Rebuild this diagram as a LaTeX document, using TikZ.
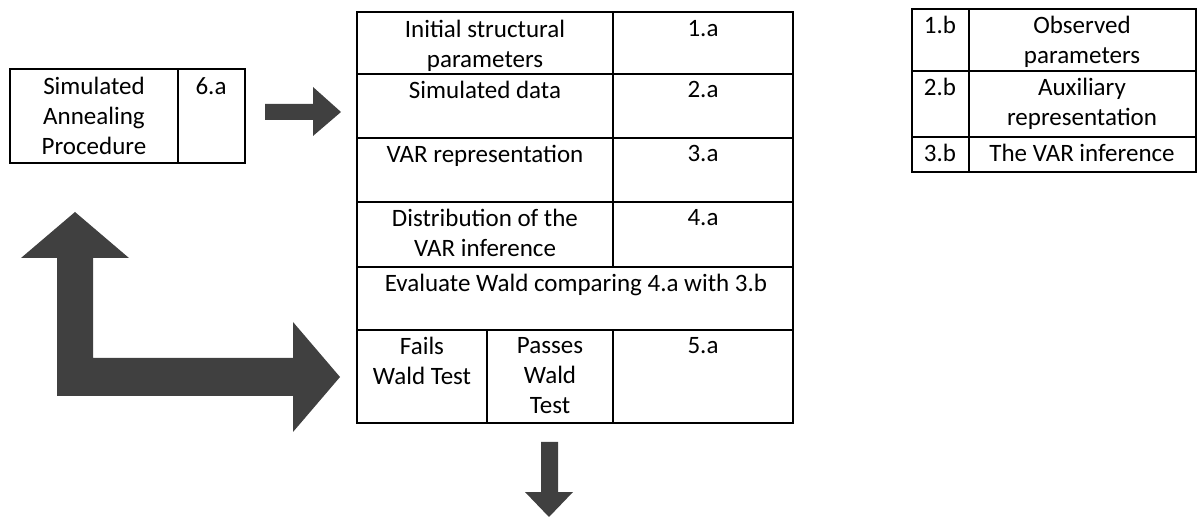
\documentclass[tikz,border=0pt]{standalone}
\usepackage{fontspec}
\setmainfont{Carlito}
\usepackage{xcolor}
\usepackage{tikz}

\definecolor{arrowgray}{HTML}{404040}
\tikzset{
  cell/.style={draw=black,line width=1pt},
  lbl/.style={anchor=north,align=center,inner sep=0pt,
    font=\fontsize{12.5}{15}\selectfont},
  blockarrow/.style={fill=arrowgray,draw=none}
}

\begin{document}
\begin{tikzpicture}[x=0.5pt,y=-0.5pt]
  \useasboundingbox (0,0) rectangle (1198,517);

  % left box
  \draw[cell] (10,69) rectangle (245,163);
  \draw[cell] (178,69) -- (178,163);
  \node[lbl] (sa) at (94,77) {Simulated\\Annealing\\Procedure};
  \node[lbl] (sa6) at (211,77) {6.a};

  % main table
  \draw[cell] (357,12) rectangle (793,423);
  \foreach \y in {74,138,202,267,330}
    \draw[cell] (357,\y) -- (793,\y);
  \draw[cell] (613,12) -- (613,267);
  \draw[cell] (613,330) -- (613,423);
  \draw[cell] (487,330) -- (487,423);
  \node[lbl] (isp) at (485,20) {Initial structural\\parameters};
  \node[lbl] (n1a) at (703,20) {1.a};
  \node[lbl] (sd) at (485,81) {Simulated data};
  \node[lbl] (n2a) at (703,81) {2.a};
  \node[lbl] (var) at (485,145) {VAR representation};
  \node[lbl] (n3a) at (703,145) {3.a};
  \node[lbl] (dist) at (485,209) {Distribution of the\\VAR inference};
  \node[lbl] (n4a) at (703,209) {4.a};
  \node[lbl] (wald) at (576,274) {Evaluate Wald comparing 4.a with 3.b};
  \node[lbl] (fail) at (422,337) {Fails\\Wald Test};
  \node[lbl] (pass) at (550,337) {Passes\\Wald\\Test};
  \node[lbl] (n5a) at (703,337) {5.a};

  % right table
  \draw[cell] (912,9) rectangle (1196,172);
  \draw[cell] (912,71) -- (1196,71);
  \draw[cell] (912,137) -- (1196,137);
  \draw[cell] (969,9) -- (969,172);
  \node[lbl] (n1b) at (940,16) {1.b};
  \node[lbl] (obs) at (1082,16) {Observed\\parameters};
  \node[lbl] (n2b) at (940,78) {2.b};
  \node[lbl] (aux) at (1082,78) {Auxiliary\\representation};
  \node[lbl] (n3b) at (940,144) {3.b};
  \node[lbl] (inf) at (1082,144) {The VAR inference};

  % block arrows
  \fill[blockarrow] (265,104) -- (313,104) -- (313,87) -- (341,112)
    -- (313,136) -- (313,120) -- (265,120) -- cycle;
  \fill[blockarrow] (57,396) -- (57,258) -- (21,258) -- (75,212)
    -- (129,258) -- (93,258) -- (93,358) -- (293,358) -- (293,322)
    -- (340,377) -- (293,432) -- (293,396) -- cycle;
  \fill[blockarrow] (541,442) -- (558,442) -- (558,492) -- (573,492)
    -- (549,517) -- (525,492) -- (541,492) -- cycle;
\end{tikzpicture}
\end{document}
